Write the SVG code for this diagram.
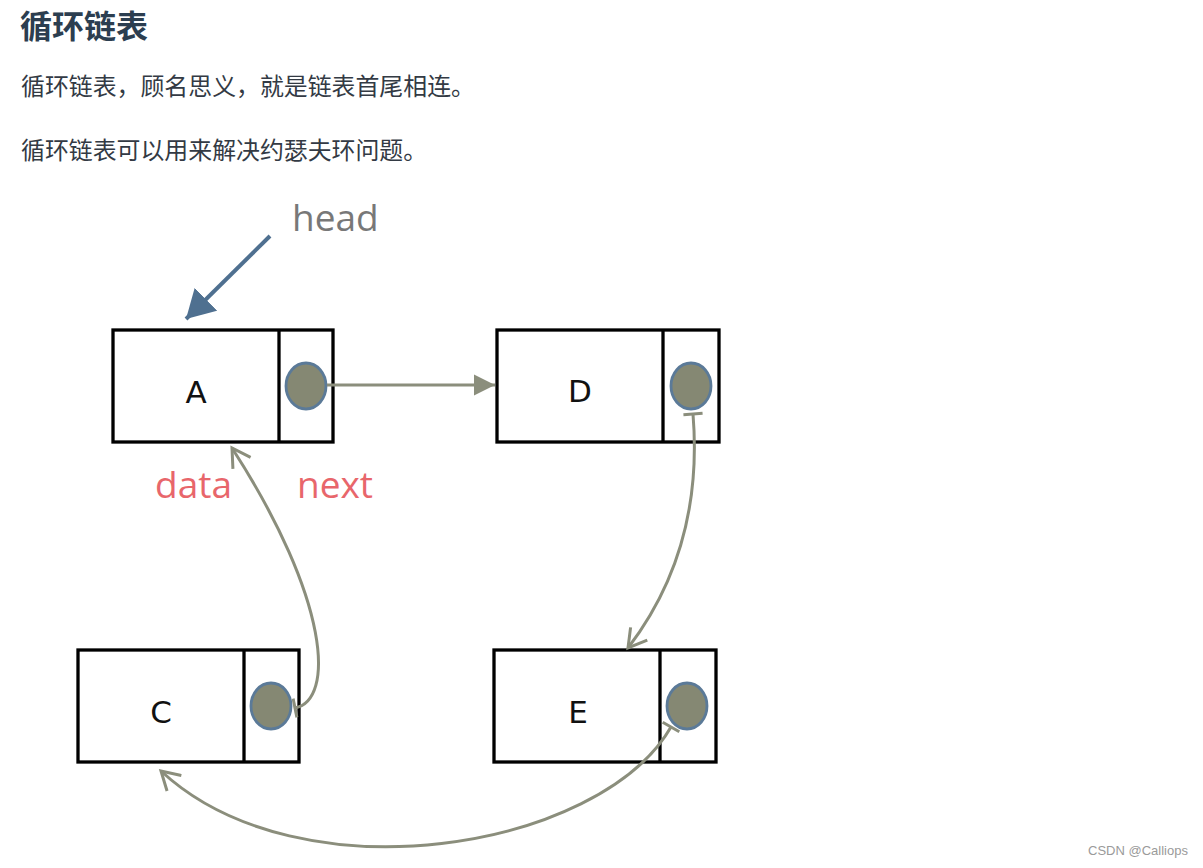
<svg xmlns="http://www.w3.org/2000/svg" width="1203" height="868" viewBox="0 0 1203 868">
<style>
.title{font-family:"Noto Sans CJK SC","Noto Sans",sans-serif;font-weight:bold;font-size:32px;fill:#2c3e50}
.body{font-family:"Noto Sans CJK SC","Noto Sans",sans-serif;font-size:23.9px;fill:#333a44}
.box{fill:#fff;stroke:#000;stroke-width:3.3}
.div{stroke:#000;stroke-width:3.3}
.dot{fill:#858873;stroke:#5b7a98;stroke-width:2.8}
.lbl{font-family:"DejaVu Sans",sans-serif;font-size:31px;fill:#111;text-anchor:middle}
.conn{fill:none;stroke:#8b8e7c;stroke-width:3}
.note{font-family:"Open Sans","DejaVu Sans",sans-serif;font-size:37px}
.wm{font-family:"Liberation Sans",Arial,sans-serif;font-size:13px;fill:#9a9a9a}
</style>
<defs>
<marker id="tri" markerWidth="8" markerHeight="8" refX="7" refY="4" orient="auto" markerUnits="strokeWidth">
<path d="M0,0.5 L7,4 L0,7.5 z" fill="#8b8e7c"/>
</marker>
<marker id="open" markerWidth="8" markerHeight="8" refX="6.5" refY="4" orient="auto" markerUnits="strokeWidth">
<path d="M0.5,0.5 L6.5,4 L0.5,7.5" fill="none" stroke="#8b8e7c" stroke-width="1"/>
</marker>
<marker id="bar" markerWidth="2" markerHeight="8" refX="1" refY="4" orient="auto" markerUnits="strokeWidth">
<path d="M1,0.8 L1,7.2" stroke="#8b8e7c" stroke-width="1"/>
</marker>
<marker id="blue" markerWidth="8" markerHeight="8" refX="7" refY="4" orient="auto" markerUnits="strokeWidth">
<path d="M0,0 L7,4 L0,8 z" fill="#4f7090"/>
</marker>
</defs>
<rect width="1203" height="868" fill="#fff"/>
<text class="title" x="20" y="37.5">循环链表</text>
<text class="body" x="21" y="95">循环链表，顾名思义，就是链表首尾相连。</text>
<text class="body" x="21" y="159">循环链表可以用来解决约瑟夫环问题。</text>

<g id="node-A">
<rect class="box" x="113" y="330" width="220" height="112"/>
<line class="div" x1="279" y1="330" x2="279" y2="442"/>
<ellipse class="dot" cx="306" cy="386" rx="20" ry="23"/>
<text class="lbl" x="196" y="403">A</text>
</g>
<g id="node-D">
<rect class="box" x="497" y="330" width="222" height="112"/>
<line class="div" x1="663" y1="330" x2="663" y2="442"/>
<ellipse class="dot" cx="691" cy="386" rx="20" ry="23"/>
<text class="lbl" x="580" y="402">D</text>
</g>
<g id="node-C">
<rect class="box" x="78" y="650" width="221" height="112"/>
<line class="div" x1="244" y1="650" x2="244" y2="762"/>
<ellipse class="dot" cx="271" cy="706" rx="20" ry="23"/>
<text class="lbl" x="161" y="723">C</text>
</g>
<g id="node-E">
<rect class="box" x="494" y="650" width="222" height="112"/>
<line class="div" x1="660" y1="650" x2="660" y2="762"/>
<ellipse class="dot" cx="687" cy="706" rx="20" ry="23"/>
<text class="lbl" x="578" y="723">E</text>
</g>

<g id="connectors">
<line x1="270" y1="236" x2="186" y2="319" stroke="#4f7090" stroke-width="4" marker-end="url(#blue)"/>
<line class="conn" x1="327" y1="385" x2="495" y2="385" marker-end="url(#tri)"/>
<path class="conn" d="M693 414 C700 500, 680 580, 628 648" marker-start="url(#bar)" marker-end="url(#open)"/>
<path class="conn" d="M671 727 C600 850, 300 900, 161 771" marker-start="url(#bar)" marker-end="url(#open)"/>
<path class="conn" d="M295 708 C335 700, 330 600, 232 448" marker-start="url(#bar)" marker-end="url(#open)"/>
</g>

<text class="note" x="292" y="231" fill="#787878">head</text>
<text class="note" x="155" y="498" fill="#e8666b">data</text>
<text class="note" x="297" y="498" fill="#e8666b">next</text>
<text class="wm" x="1088" y="855">CSDN @Calliops</text>
</svg>
